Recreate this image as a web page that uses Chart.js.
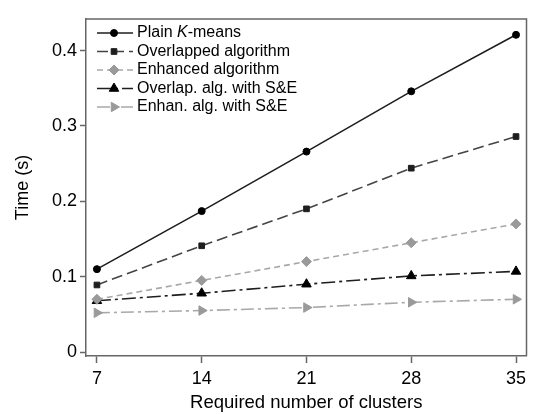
<!DOCTYPE html>
<html lang="en">
<head>
    <meta charset="UTF-8">
    <title>Time vs number of clusters</title>
    <script src="https://cdn.jsdelivr.net/npm/chart.js"></script>
    <style>
        html, body { margin: 0; padding: 0; background: #fff; }
        #wrap { width: 533px; height: 414px; }
    </style>
</head>
<body>
    <div id="wrap"><canvas id="timeChart"></canvas></div>

    <script>
        // data
        var clusters = [7, 14, 21, 28, 35];
        var plainKmeans = [0.110, 0.187, 0.266, 0.346, 0.421];
        var overlapped = [0.089, 0.141, 0.190, 0.244, 0.286];
        var enhanced = [0.070, 0.095, 0.120, 0.145, 0.170];
        var overlapSE = [0.068, 0.078, 0.090, 0.101, 0.107];
        var enhanSE = [0.052, 0.055, 0.059, 0.066, 0.070];
        var yTicks = [0, 0.1, 0.2, 0.3, 0.4];
        var seriesNames = ['Plain K-means', 'Overlapped algorithm', 'Enhanced algorithm',
                           'Overlap. alg. with S&E', 'Enhan. alg. with S&E'];

        var FONT = "'Liberation Sans', Arial, sans-serif";
        var AXIS_GREY = '#666666';

        function pts(values) {
            return values.map(function (v, i) { return { x: clusters[i], y: v }; });
        }

        function series(name, values, color, markColor, dash, style, radius, rot) {
            return {
                label: name,
                data: pts(values),
                borderColor: color,
                borderWidth: 1.6,
                borderDash: dash,
                backgroundColor: markColor,
                pointBackgroundColor: markColor,
                pointBorderColor: markColor,
                pointBorderWidth: 1,
                pointStyle: style,
                pointRadius: radius,
                pointRotation: rot || 0,
                tension: 0
            };
        }

        // legend with line + marker samples, drawn inside the plot
        var insideLegend = {
            id: 'insideLegend',
            afterDatasetsDraw: function (chart) {
                var ctx = chart.ctx;
                chart.data.datasets.forEach(function (ds, i) {
                    var y = 33 + i * 18.5;
                    ctx.save();
                    ctx.strokeStyle = ds.borderColor;
                    ctx.lineWidth = ds.borderWidth;
                    ctx.setLineDash(ds.borderDash || []);
                    ctx.beginPath();
                    ctx.moveTo(97, y);
                    ctx.lineTo(133, y);
                    ctx.stroke();
                    ctx.setLineDash([]);
                    ctx.fillStyle = ds.pointBackgroundColor;
                    ctx.strokeStyle = ds.pointBorderColor;
                    ctx.lineWidth = 1;
                    Chart.helpers.drawPoint(ctx, {
                        pointStyle: ds.pointStyle,
                        rotation: ds.pointRotation,
                        radius: ds.pointRadius,
                        borderWidth: 1
                    }, 114, y);

                    // label, with the K of K-means in italics
                    ctx.fillStyle = '#000';
                    ctx.textBaseline = 'middle';
                    var x = 137;
                    ds.label.split(/(\bK\b)/).forEach(function (part) {
                        if (!part) return;
                        ctx.font = (part === 'K' ? 'italic ' : '') + '16px ' + FONT;
                        ctx.fillText(part, x, y);
                        x += ctx.measureText(part).width;
                    });
                    ctx.restore();
                });
            }
        };

        // closes the box on the top and right sides
        var frame = {
            id: 'frame',
            afterDraw: function (chart) {
                var a = chart.chartArea, ctx = chart.ctx;
                ctx.save();
                ctx.strokeStyle = AXIS_GREY;
                ctx.lineWidth = 1.5;
                ctx.beginPath();
                ctx.moveTo(a.left, a.top);
                ctx.lineTo(a.right, a.top);
                ctx.lineTo(a.right, a.bottom);
                ctx.stroke();
                ctx.restore();
            }
        };

        var ctx = document.getElementById('timeChart').getContext('2d');
        var timeChart = new Chart(ctx, {
            type: 'line',
            data: {
                datasets: [
                    series(seriesNames[0], plainKmeans, '#1e1e1e', '#000000', [], 'circle', 3.5),
                    series(seriesNames[1], overlapped, '#444444', '#1e1e1e', [11, 5], 'rect', 4),
                    series(seriesNames[2], enhanced, '#a8a8a8', '#9a9a9a', [6, 4], 'rectRot', 5),
                    series(seriesNames[3], overlapSE, '#1e1e1e', '#000000', [14, 4, 3, 4], 'triangle', 5.5),
                    series(seriesNames[4], enhanSE, '#a8a8a8', '#9a9a9a', [13, 4, 3, 4], 'triangle', 5.5, 90)
                ]
            },
            options: {
                responsive: true,
                maintainAspectRatio: false,
                animation: false,
                layout: { padding: { top: 19, right: 2, left: 0, bottom: 0 } },
                plugins: {
                    legend: { display: false },
                    tooltip: { enabled: false }
                },
                scales: {
                    x: {
                        type: 'linear',
                        min: 6.27,
                        max: 35.7,
                        afterBuildTicks: function (scale) {
                            scale.ticks = clusters.map(function (v) { return { value: v }; });
                        },
                        afterFit: function (scale) { scale.height = 58; },
                        grid: {
                            drawOnChartArea: false,
                            drawTicks: true,
                            tickLength: 7,
                            tickWidth: 1.5,
                            tickColor: AXIS_GREY
                        },
                        border: { color: AXIS_GREY, width: 1.5 },
                        ticks: {
                            color: '#000',
                            padding: 5,
                            maxRotation: 0,
                            font: { family: FONT, size: 18 }
                        },
                        title: {
                            display: true,
                            text: 'Required number of clusters',
                            color: '#000',
                            padding: { top: 0, bottom: 0 },
                            font: { family: FONT, size: 18.5 }
                        }
                    },
                    y: {
                        min: -0.0053,
                        max: 0.442,
                        afterBuildTicks: function (scale) {
                            scale.ticks = yTicks.map(function (v) { return { value: v }; });
                        },
                        afterFit: function (scale) { scale.width = 86; },
                        grid: {
                            drawOnChartArea: false,
                            drawTicks: true,
                            tickLength: 6,
                            tickWidth: 1.5,
                            tickColor: AXIS_GREY
                        },
                        border: { color: AXIS_GREY, width: 1.5 },
                        ticks: {
                            color: '#000',
                            padding: 3,
                            font: { family: FONT, size: 18 },
                            callback: function (v) { return v === 0 ? '0' : v.toFixed(1); }
                        },
                        title: {
                            display: true,
                            text: 'Time (s)',
                            color: '#000',
                            padding: { top: 12, bottom: 0 },
                            font: { family: FONT, size: 18 }
                        }
                    }
                }
            },
            plugins: [insideLegend, frame]
        });
    </script>
</body>
</html>
